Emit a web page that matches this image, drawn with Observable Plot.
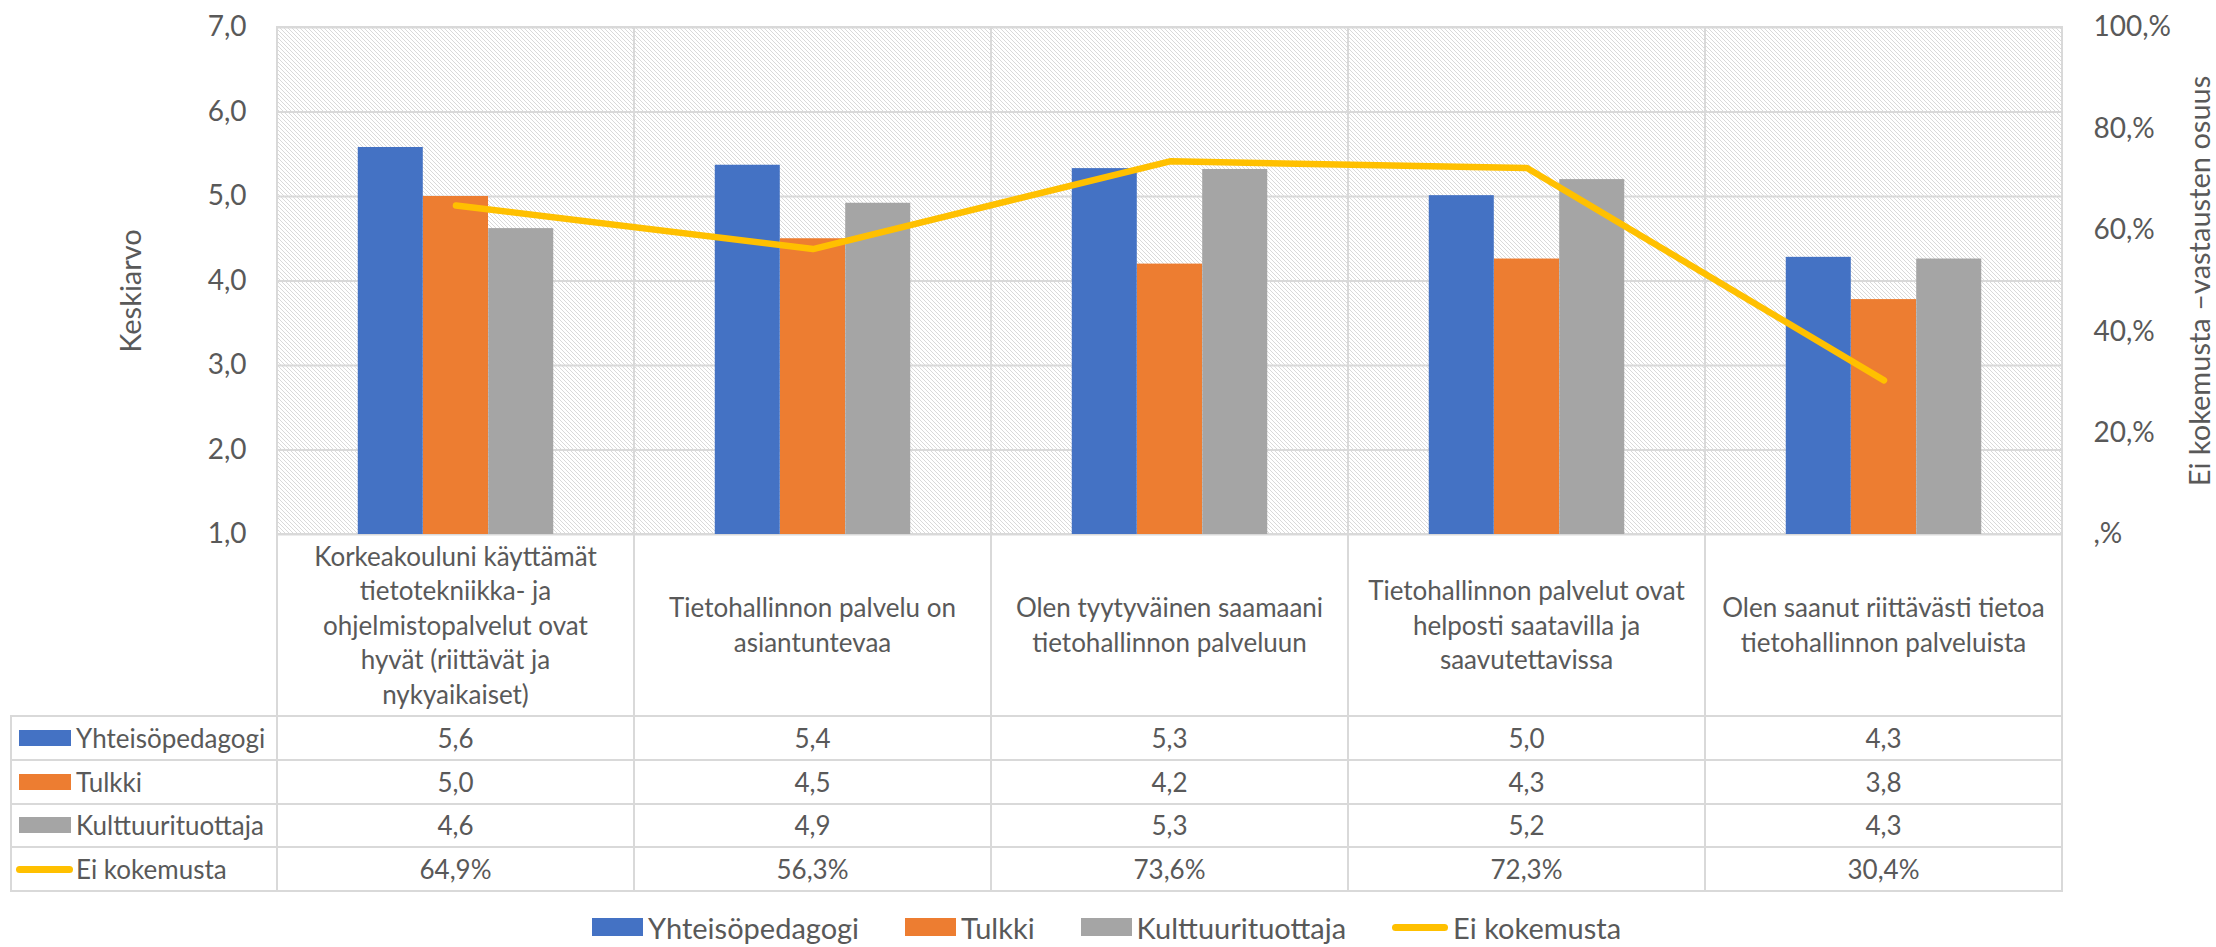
<!DOCTYPE html>
<html>
<head>
<meta charset="utf-8">
<script src="https://cdn.jsdelivr.net/npm/d3@7"></script>
<script src="https://cdn.jsdelivr.net/npm/@observablehq/plot@0.6"></script>
<style>
  html, body { margin: 0; padding: 0; background: #fff; overflow: hidden; }
  #chart { position: relative; width: 2216px; height: 947px; font-family: Lato, "Open Sans", sans-serif; color: #595959; overflow: hidden; }
  #chart svg { position: absolute; left: 0; top: 0; }
  .ln { position: absolute; background: #D9D9D9; }
  .cell { position: absolute; display: flex; align-items: center; justify-content: center; white-space: pre; text-align: center; font-size: 26px; }
  .hdr { line-height: 34.6px; }
  .lab { position: absolute; display: flex; align-items: center; font-size: 26px; white-space: pre; }
  .mk { position: absolute; }
  #legend { position: absolute; left: 592px; top: 912px; height: 30px; display: flex; align-items: center; font-size: 29px; line-height: 1; white-space: pre; }
  #legend .item { display: flex; align-items: center; margin-right: 46px; }
  #legend .item:last-child { margin-right: 0; }
  #legend .sw { width: 51px; height: 18px; margin-right: 5px; }
  #legend .swl { width: 56px; height: 7px; border-radius: 3.5px; margin-right: 5px; }
</style>
</head>
<body>
<div id="chart"></div>
<script>
// ---- data ----
const categories = [
  "Korkeakouluni käyttämät\ntietotekniikka- ja\nohjelmistopalvelut ovat\nhyvät (riittävät ja\nnykyaikaiset)",
  "Tietohallinnon palvelu on\nasiantuntevaa",
  "Olen tyytyväinen saamaani\ntietohallinnon palveluun",
  "Tietohallinnon palvelut ovat\nhelposti saatavilla ja\nsaavutettavissa",
  "Olen saanut riittävästi tietoa\ntietohallinnon palveluista"
];
const seriesNames = ["Yhteisöpedagogi", "Tulkki", "Kulttuurituottaja"];
const lineName = "Ei kokemusta";
const yhteisopedagogi = [5.58, 5.37, 5.33, 5.01, 4.28];
const tulkki = [5.00, 4.50, 4.20, 4.26, 3.78];
const kulttuurituottaja = [4.62, 4.92, 5.32, 5.20, 4.26];
const eiKokemusta = [64.9, 56.3, 73.6, 72.3, 30.4];
const leftTicks = [1, 2, 3, 4, 5, 6, 7];
const rightTicks = [0, 20, 40, 60, 80, 100];
const leftTitle = "Keskiarvo";
const rightTitle = "Ei kokemusta –vastausten osuus";
const colors = ["#4472C4", "#ED7D31", "#A5A5A5"];
const lineColor = "#FFC000";

// ---- derived ----
const seriesValues = [yhteisopedagogi, tulkki, kulttuurituottaja];
const bars = categories.flatMap((c, i) => seriesNames.map((s, k) => ({cat: c, series: s, k, value: seriesValues[k][i]})));
const lineData = categories.map((c, i) => ({cat: c, pct: eiKokemusta[i]}));
const yMin = leftTicks[0], yMax = leftTicks[leftTicks.length - 1];
const toLeft = p => yMin + (p / 100) * (yMax - yMin);
const fromLeft = v => Math.round((v - yMin) / (yMax - yMin) * 100);
const fmt1 = v => v.toFixed(1).replace(".", ",");
const fmtPct = v => v.toFixed(1).replace(".", ",") + "%";

const W = 2216, H = 947;
const M = {top: 27, right: 154, bottom: 413, left: 276};
const bw = (W - M.left - M.right) / categories.length;
const barW = bw * 0.1826;
const base = (bw - 3 * barW) / 2;

const marks = [
  Plot.cell(categories, {x: d => d, fill: "url(#hatch)", stroke: "#D9D9D9", strokeWidth: 2}),
  Plot.gridY(leftTicks, {stroke: "#D9D9D9", strokeOpacity: 1, strokeWidth: 2}),
  ...seriesNames.map((s, k) => Plot.barY(bars.filter(d => d.k === k), {
    x: "cat", y1: yMin, y2: "value", fill: colors[k],
    insetLeft: base + k * barW, insetRight: bw - base - (k + 1) * barW
  })),
  Plot.line(lineData, {x: "cat", y: d => toLeft(d.pct), stroke: lineColor, strokeWidth: 6.5, strokeLinecap: "round", strokeLinejoin: "round"}),
  Plot.axisY({anchor: "left", ticks: leftTicks, tickSize: 0, tickPadding: 30, tickFormat: fmt1, fontSize: 28, label: null}),
  Plot.axisY({anchor: "right", ticks: rightTicks.map(toLeft), tickSize: 0, tickPadding: 31, fontSize: 28, label: null,
    tickFormat: v => { const p = fromLeft(v); return p === 0 ? ",%" : p + ",%"; }}),
  Plot.text([leftTitle], {text: d => d, frameAnchor: "left", textAnchor: "middle", lineAnchor: "middle", dx: -145, dy: 10, rotate: -90, fontSize: 29, fill: "#595959"}),
  Plot.text([rightTitle], {text: d => d, frameAnchor: "right", textAnchor: "middle", lineAnchor: "middle", dx: 138, dy: 0, rotate: -90, fontSize: 29, fill: "#595959"})
];

const plot = Plot.plot({
  width: W, height: H,
  marginTop: M.top, marginRight: M.right, marginBottom: M.bottom, marginLeft: M.left,
  style: {fontFamily: "Lato, 'Open Sans', sans-serif", fontSize: "28px", color: "#595959", background: "transparent", overflow: "visible"},
  x: {type: "band", domain: categories, padding: 0, axis: null},
  y: {domain: [yMin, yMax]},
  marks
});

const defs = document.createElementNS("http://www.w3.org/2000/svg", "defs");
defs.innerHTML = '<pattern id="hatch" patternUnits="userSpaceOnUse" x="0" y="0" width="4" height="4">' +
  '<rect width="4" height="4" fill="#ffffff"/>' +
  '<rect x="0" y="0" width="1" height="1" fill="#D9D9D9"/>' +
  '<rect x="1" y="1" width="1" height="1" fill="#D9D9D9"/>' +
  '<rect x="2" y="2" width="1" height="1" fill="#D9D9D9"/>' +
  '<rect x="3" y="3" width="1" height="1" fill="#D9D9D9"/>' +
  '</pattern>';
plot.insertBefore(defs, plot.firstChild);

const chart = document.getElementById("chart");
chart.appendChild(plot);

// ---- data table (aligned with the x scale) ----
const xs = plot.scale("x");
const ys = plot.scale("y");
const bwid = xs.bandwidth;
const colX = categories.map(c => xs.apply(c));
const tLeft = 11;
const tRight = colX[colX.length - 1] + bwid;
const tTop = ys.apply(yMin);
const rowYs = [tTop, 716, 759.75, 803.5, 847.25, 891];

function div(cls, style, text) {
  const d = document.createElement("div");
  d.className = cls;
  Object.assign(d.style, style);
  if (text != null) d.textContent = text;
  chart.appendChild(d);
  return d;
}
const px = v => v + "px";

// header cells
categories.forEach((c, i) => {
  div("cell hdr", {left: px(colX[i]), top: px(rowYs[0]), width: px(bwid), height: px(rowYs[1] - rowYs[0])}, c);
});

const rows = [
  {name: seriesNames[0], vals: yhteisopedagogi.map(fmt1), color: colors[0], type: "rect"},
  {name: seriesNames[1], vals: tulkki.map(fmt1), color: colors[1], type: "rect"},
  {name: seriesNames[2], vals: kulttuurituottaja.map(fmt1), color: colors[2], type: "rect"},
  {name: lineName, vals: eiKokemusta.map(fmtPct), color: lineColor, type: "line"}
];
rows.forEach((r, j) => {
  const y0 = rowYs[j + 1], y1 = rowYs[j + 2], h = y1 - y0, cy = (y0 + y1) / 2;
  if (r.type === "rect") {
    div("mk", {left: px(19), top: px(cy - 8), width: px(52), height: px(16), background: r.color});
  } else {
    div("mk", {left: px(16), top: px(cy - 3.5), width: px(57), height: px(7), background: r.color, borderRadius: "3.5px"});
  }
  div("lab", {left: px(76), top: px(y0), height: px(h)}, r.name);
  r.vals.forEach((v, i) => {
    div("cell", {left: px(colX[i]), top: px(y0), width: px(bwid), height: px(h)}, v);
  });
});

// grid lines of the table
colX.concat([tRight]).forEach(x => div("ln", {left: px(x - 1), top: px(rowYs[0]), width: "2px", height: px(rowYs[5] - rowYs[0] + 1)}));
div("ln", {left: px(tLeft - 1), top: px(rowYs[1] - 1), width: "2px", height: px(rowYs[5] - rowYs[1] + 2)});
rowYs.slice(1).forEach(y => div("ln", {left: px(tLeft - 1), top: px(y - 1), width: px(tRight - tLeft + 2), height: "2px"}));

// ---- legend ----
const legend = document.createElement("div");
legend.id = "legend";
seriesNames.forEach((s, k) => {
  const it = document.createElement("div");
  it.className = "item";
  it.innerHTML = `<div class="sw" style="background:${colors[k]}"></div><span></span>`;
  it.querySelector("span").textContent = s;
  legend.appendChild(it);
});
{
  const it = document.createElement("div");
  it.className = "item";
  it.innerHTML = `<div class="swl" style="background:${lineColor}"></div><span></span>`;
  it.querySelector("span").textContent = lineName;
  legend.appendChild(it);
}
chart.appendChild(legend);
</script>
</body>
</html>
